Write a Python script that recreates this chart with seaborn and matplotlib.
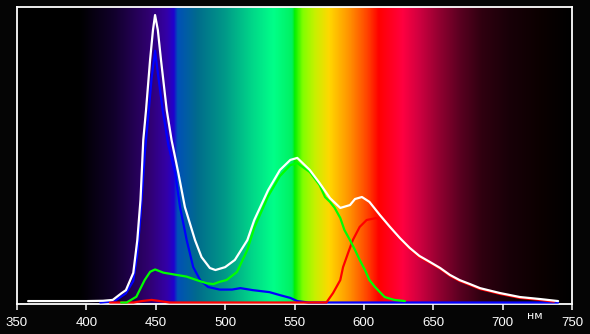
import numpy as np
import pandas as pd
import matplotlib
matplotlib.use("Agg")
import matplotlib.pyplot as plt
from matplotlib.colors import LinearSegmentedColormap
import seaborn as sns

# ---- data (relative intensity) ----
white_nm = [358, 380, 400, 412, 419, 425.5, 428.5, 433.8, 436.7, 439, 441, 443, 445.9, 448, 449.5,
            451.5, 453.8, 457.9, 461.4, 466.3, 471, 478.3, 483, 489, 493, 500, 507, 516, 521,
            531, 539.5, 547, 552, 561, 568, 575.6, 583, 590, 593.6, 598.6, 604, 611.6, 618.8,
            626, 633, 640, 647.6, 655, 662, 669, 676.5, 683.7, 698, 712.5, 727, 740]
white_val = [0.005, 0.005, 0.005, 0.006, 0.009, 0.033, 0.043, 0.103, 0.217, 0.357, 0.565, 0.670, 0.843, 0.948, 1.0,
             0.948, 0.843, 0.670, 0.565, 0.450, 0.332, 0.217, 0.158, 0.120, 0.113, 0.123, 0.148, 0.217, 0.287,
             0.391, 0.461, 0.496, 0.503, 0.461, 0.416, 0.363, 0.329, 0.339, 0.360, 0.367, 0.350, 0.304, 0.263,
             0.224, 0.190, 0.162, 0.141, 0.120, 0.096, 0.078, 0.064, 0.050, 0.033, 0.019, 0.012, 0.005]

blue_nm = [410, 420, 425.5, 428.5, 433.8, 436.7, 439, 442.3, 445, 447, 449.5, 452, 455, 459, 464,
           467.5, 472.3, 477, 482, 487.7, 496, 505, 511, 520, 532, 540, 547, 552, 560, 600, 650, 700, 740]
blue_val = [0.0, 0.004, 0.022, 0.032, 0.075, 0.17, 0.30, 0.53, 0.67, 0.78, 0.876, 0.78, 0.67, 0.55, 0.45,
            0.332, 0.217, 0.123, 0.078, 0.054, 0.045, 0.045, 0.050, 0.043, 0.036, 0.025, 0.016, 0.005, 0.0, 0.0, 0.0, 0.0, 0.0]

green_nm = [425, 429, 436, 442, 446, 449.5, 455.4, 465, 472.3, 479.5, 486.7, 491.5, 496, 501, 508.5,
            516, 521, 531, 539.5, 547, 552, 561, 568, 572, 575.6, 579, 583, 586, 590, 593.6, 597,
            600.8, 604, 608, 615, 622, 629.6]
green_val = [0.0, 0.0, 0.02, 0.078, 0.107, 0.115, 0.104, 0.096, 0.09, 0.078, 0.067, 0.064, 0.072, 0.078, 0.106,
             0.183, 0.26, 0.37, 0.44, 0.478, 0.485, 0.454, 0.409, 0.367, 0.350, 0.329, 0.294, 0.252, 0.217, 0.183, 0.148,
             0.113, 0.078, 0.054, 0.019, 0.009, 0.005]

red_nm = [417, 434, 440, 447, 453, 460, 470, 520, 573, 577.8, 583, 585, 588.6, 592, 597, 602, 609, 616.7,
          626, 633, 640, 647.6, 655, 662, 669, 676.5, 683.7, 698, 712.5, 727, 737]
red_val = [0.0, 0.0, 0.005, 0.009, 0.005, 0.0, 0.0, 0.0, 0.0, 0.033, 0.078, 0.123, 0.172, 0.217, 0.263, 0.287, 0.294, 0.275,
           0.22, 0.187, 0.158, 0.138, 0.117, 0.093, 0.075, 0.061, 0.047, 0.03, 0.016, 0.009, 0.003]

ticks = [350, 400, 450, 500, 550, 600, 650, 700, 750]

df = pd.concat([
    pd.DataFrame({"nm": blue_nm, "val": blue_val, "s": "blue"}),
    pd.DataFrame({"nm": red_nm, "val": red_val, "s": "red"}),
    pd.DataFrame({"nm": green_nm, "val": green_val, "s": "green"}),
    pd.DataFrame({"nm": white_nm, "val": white_val, "s": "white"}),
], ignore_index=True)

palette = {"blue": "#0000ff", "red": "#ff0000", "green": "#00ff00", "white": "#ffffff"}

# ---- figure ----
sns.set_theme(style="ticks")
plt.rcParams["font.family"] = ["Liberation Sans", "DejaVu Sans"]

fig = plt.figure(figsize=(5.9, 3.34), dpi=100, facecolor="#050505")
ax = fig.add_axes([17 / 590, 30 / 334, 555 / 590, 297 / 334])
ax.set_facecolor("black")

y0, y1 = -0.0052, 1.028

# spectrum background
nodes = [
    (350, "#000000"), (395, "#000000"), (420, "#12002c"), (445, "#300070"), (458, "#3400a8"),
    (463, "#2000d0"), (465.5, "#0050b8"), (480, "#006c8c"), (500, "#009a88"), (520, "#00d888"),
    (535, "#00ff88"), (548.5, "#00f060"), (550, "#00f000"), (556, "#80ff00"), (565, "#c8f000"),
    (575, "#ffd800"), (590, "#ff9000"), (603, "#ff4000"), (611, "#ff0000"), (628, "#ff0040"),
    (640, "#d00040"), (655, "#900030"), (670, "#580020"), (685, "#300010"), (705, "#180008"),
    (730, "#0a0000"), (750, "#000000"),
]
cmap = LinearSegmentedColormap.from_list(
    "spec", [((w - 350) / 400, c) for w, c in nodes], N=1024)
grad = np.linspace(0, 1, 1200)[None, :]
ax.imshow(grad, cmap=cmap, extent=[350, 750, y0, y1], aspect="auto",
          interpolation="bilinear", zorder=0)

sns.lineplot(data=df, x="nm", y="val", hue="s", palette=palette, sort=False,
             estimator=None, linewidth=1.6, legend=False, ax=ax, zorder=3)

ax.set_xlim(350, 750)
ax.set_ylim(y0, y1)
ax.set_xticks(ticks)
ax.set_xticklabels([str(t) for t in ticks])
ax.set_yticks([])
ax.set_xlabel("")
ax.set_ylabel("")
ax.grid(False)
for sp in ax.spines.values():
    sp.set_visible(True)
    sp.set_color("white")
    sp.set_linewidth(1.3)
    sp.set_zorder(2)
ax.tick_params(axis="x", colors="white", length=4, width=1.1, pad=5, labelsize=9.5,
               direction="out", bottom=True, top=False)
ax.tick_params(axis="y", left=False, right=False)

fig.text(535 / 590, 1 - 316 / 334, "нм", color="white", fontsize=8,
         ha="center", va="center", family=["DejaVu Sans"])

fig.savefig("out.png", dpi=100, facecolor=fig.get_facecolor())
